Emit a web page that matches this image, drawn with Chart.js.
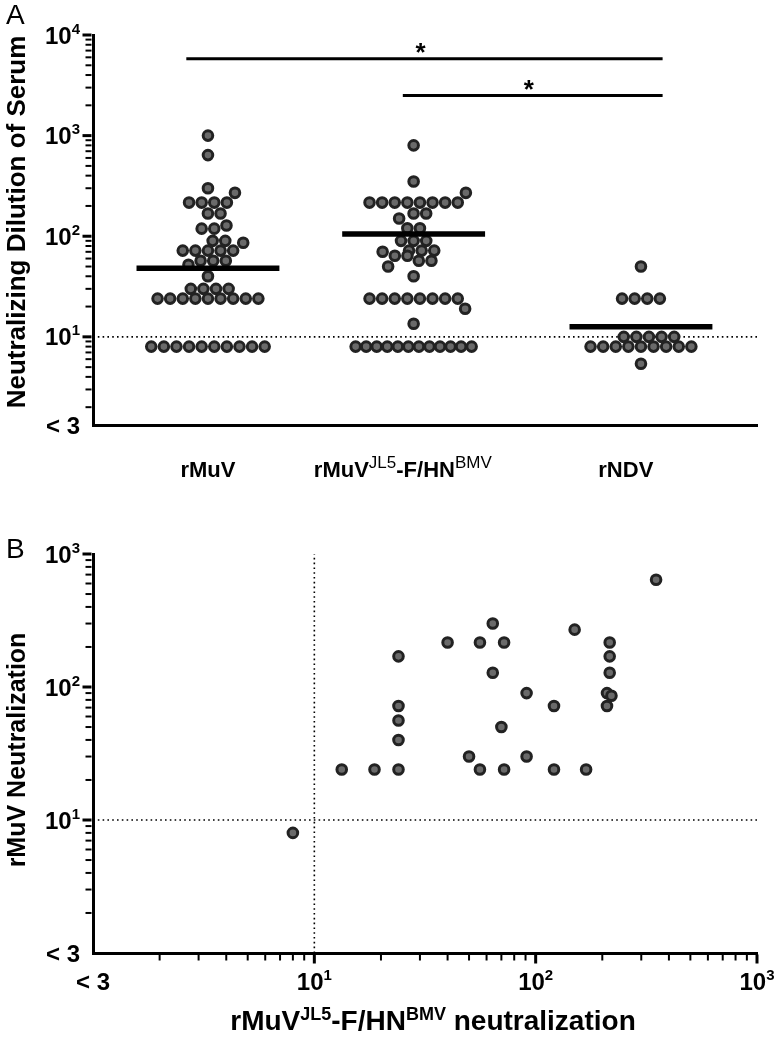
<!DOCTYPE html>
<html>
<head>
<meta charset="utf-8">
<script src="https://cdn.jsdelivr.net/npm/chart.js@4.4.1/dist/chart.umd.min.js"></script>
<style>
  html, body { margin: 0; padding: 0; background: #fff; }
  #wrap { position: relative; width: 780px; height: 1041px; overflow: hidden; }
  canvas { position: absolute; left: 0; }
  #cA { top: 0; }
  #cB { top: 520px; }
</style>
</head>
<body>
<div id="wrap">
  <canvas id="cA" width="780" height="520"></canvas>
  <canvas id="cB" width="780" height="521"></canvas>
</div>
<script>
// ---------------- DATA ----------------
const groupNames = ['rMuV', 'rMuVJL5-F/HNBMV', 'rNDV'];
const groupLabelParts = [
  [['rMuV', 0]],
  [['rMuV', 0], ['JL5', 1], ['-F/HN', 0], ['BMV', 1]],
  [['rNDV', 0]]
];
const rMuVTiters = [1000, 640, 300, 270, 216, 216, 216, 216, 168, 168, 128, 119, 119,
  90, 90, 86, 72, 72, 72, 72, 72, 57, 57, 57, 52, 40, 30, 30, 30, 30,
  24, 24, 24, 24, 24, 24, 24, 24, 24, 8, 8, 8, 8, 8, 8, 8, 8, 8, 8];
const rMuVJL5Titers = [800, 350, 270, 216, 216, 216, 216, 216, 216, 216, 216, 168, 168, 150,
  120, 120, 90, 90, 90, 72, 72, 72, 70, 64, 64, 57, 57, 50, 40,
  24, 24, 24, 24, 24, 24, 24, 24, 19, 13.5, 8, 8, 8, 8, 8, 8, 8, 8, 8, 8, 8, 8];
const rNDVTiters = [50, 24, 24, 24, 24, 10, 10, 10, 10, 10, 8, 8, 8, 8, 8, 8, 8, 8, 8, 5.4];
const groupMeans = [48, 105, 12.6];
const detectionLimit = 10;
const sigFrom = [0.9, 1.9];
const sigTo = [3.1, 3.1];
const sigLevels = [5800, 2500];
const sigMarks = ['*', '*'];
const yTickExpA = [1, 2, 3, 4];
const lowTickLabel = '< 3';

// panel B : x = rMuVJL5-F/HNBMV titer, y = rMuV titer
const scatterX = [8, 13.3, 18.7, 24, 24, 24, 24, 24, 40, 56, 72, 64, 64, 70, 50, 56, 72, 91, 91,
  121, 121, 169, 150, 216, 216, 216, 210, 220, 210, 350];
const scatterY = [8, 24, 24, 24, 40, 56, 72, 170, 216, 216, 216, 300, 128, 50, 30, 24, 24, 90, 30,
  72, 24, 24, 270, 216, 170, 128, 90, 86, 72, 640];
const tickExpB = [1, 2, 3];
const xTitleParts = [['rMuV', 0], ['JL5', 1], ['-F/HN', 0], ['BMV', 1], [' neutralization', 0]];

// ---------------- SETTINGS ----------------
const FONT = '"Liberation Sans", Arial, Helvetica, sans-serif';
const yMinA = 1.33, yMaxA = 10000;
const xMinA = 0.469, xMaxA = 3.536;
const groupPos = [1, 1.95, 3];      // column centres on the linear x axis
const labelPos = [1, 1.9, 2.93];    // column label centres
const minB = 1, maxB = 1000;
const meanHalf = 0.33;
const dotStyle = {
  pointRadius: 4.8, pointHoverRadius: 4.8, pointBorderWidth: 3, pointHoverBorderWidth: 3,
  pointBackgroundColor: '#6a6a6a', pointBorderColor: '#222222', showLine: false, clip: false
};

// ---------------- HELPERS ----------------
function drawParts(ctx, parts, x, baseline, align, size, supSize, bold, supBold, rise) {
  const fMain = (bold ? 'bold ' : '') + size + 'px ' + FONT;
  const fSup = (supBold ? 'bold ' : '') + supSize + 'px ' + FONT;
  let total = 0;
  const widths = parts.map(([t, s]) => { ctx.font = s ? fSup : fMain; const w = ctx.measureText(t).width; total += w; return w; });
  let cx = align === 'center' ? x - total / 2 : (align === 'right' ? x - total : x);
  ctx.textAlign = 'left';
  ctx.textBaseline = 'alphabetic';
  ctx.fillStyle = '#000';
  parts.forEach(([t, s], i) => {
    ctx.font = s ? fSup : fMain;
    ctx.fillText(t, cx, s ? baseline - rise : baseline);
    cx += widths[i];
  });
}
function logTicks(min, max) {
  const major = [], minor = [];
  for (let e = Math.floor(Math.log10(min)); e <= Math.ceil(Math.log10(max)); e++) {
    for (let m = 1; m <= 9; m++) {
      const v = m * Math.pow(10, e);
      if (v < min * 1.0001 || v > max * 1.0001) continue;
      (m === 1 ? major : minor).push(v);
    }
  }
  return { major, minor };
}
function drawYTicks(ctx, scale, x0, min, max) {
  const t = logTicks(min, max);
  ctx.strokeStyle = '#000';
  ctx.lineCap = 'butt';
  ctx.lineWidth = 2;
  t.minor.forEach(v => { const y = scale.getPixelForValue(v); ctx.beginPath(); ctx.moveTo(x0, y); ctx.lineTo(x0 - 6, y); ctx.stroke(); });
  ctx.lineWidth = 3;
  t.major.forEach(v => { const y = scale.getPixelForValue(v); ctx.beginPath(); ctx.moveTo(x0, y); ctx.lineTo(x0 - 9, y); ctx.stroke(); });
}
function drawXTicks(ctx, scale, y0, min, max) {
  const t = logTicks(min, max);
  ctx.strokeStyle = '#000';
  ctx.lineWidth = 2;
  t.minor.forEach(v => { const x = scale.getPixelForValue(v); ctx.beginPath(); ctx.moveTo(x, y0); ctx.lineTo(x, y0 + 6); ctx.stroke(); });
  ctx.lineWidth = 3;
  t.major.forEach(v => { const x = scale.getPixelForValue(v); ctx.beginPath(); ctx.moveTo(x, y0); ctx.lineTo(x, y0 + 9); ctx.stroke(); });
}
function powLabel(ctx, exp, x, yMid, align) {
  drawParts(ctx, [['10', 0], [String(exp), 1]], x, yMid + 8.5, align, 24, 15, true, true, 10);
}
function plainLabel(ctx, txt, x, yMid, align) {
  drawParts(ctx, [[txt, 0]], x, yMid + 8.5, align, 24, 15, true, true, 10);
}
function rotatedTitle(ctx, txt, x, y, size) {
  ctx.save();
  ctx.translate(x, y);
  ctx.rotate(-Math.PI / 2);
  ctx.font = 'bold ' + size + 'px ' + FONT;
  ctx.fillStyle = '#000';
  ctx.textAlign = 'center';
  ctx.textBaseline = 'middle';
  ctx.fillText(txt, 0, 0);
  ctx.restore();
}
function panelLetter(ctx, txt, x, y) {
  ctx.font = '28px ' + FONT;
  ctx.fillStyle = '#000';
  ctx.textAlign = 'left';
  ctx.textBaseline = 'alphabetic';
  ctx.fillText(txt, x, y);
}

// deterministic beeswarm (pixel space): tie rows are centred, others take the nearest free spot
function beeswarm(values, pixOf, d, maxHalf) {
  const n = values.length;
  const py = values.map(pixOf);
  const gm = new Map();
  values.forEach((v, i) => { if (!gm.has(v)) gm.set(v, []); gm.get(v).push(i); });
  const order = [...gm.entries()].sort((a, b) => (b[1].length - a[1].length) || (b[0] - a[0])).map(e => e[1]);
  const placed = [];
  const off = new Array(n).fill(0);
  const pen = (x, y) => {
    let p = 0;
    for (const q of placed) { const dist = Math.hypot(x - q.x, y - q.y); if (dist < d - 0.01) p += (d - dist); }
    return p;
  };
  for (const g of order) {
    const m = g.length;
    const y = py[g[0]];
    if (m > 1) {
      const sp = Math.min(d, 2 * maxHalf / (m - 1));
      let best = 0, bestP = Infinity;
      for (let s = 0; s <= sp + 1e-6; s += 0.25) {
        for (const sg of (s === 0 ? [0] : [s, -s])) {
          let p = 0;
          for (let k = 0; k < m; k++) p += pen((k - (m - 1) / 2) * sp + sg, y);
          p += Math.abs(sg) * 0.02;
          if (p < bestP - 1e-9) { bestP = p; best = sg; }
        }
      }
      g.forEach((idx, k) => { const x = (k - (m - 1) / 2) * sp + best; off[idx] = x; placed.push({ x, y }); });
    } else {
      const idx = g[0];
      let best = 0, bestP = Infinity, found = false;
      for (let s = 0; s <= maxHalf && !found; s += 0.25) {
        for (const sg of (s === 0 ? [0] : [s, -s])) {
          const p = pen(sg, y);
          if (p === 0) { best = sg; found = true; break; }
          if (p < bestP) { bestP = p; best = sg; }
        }
      }
      off[idx] = best;
      placed.push({ x: best, y });
    }
  }
  return off;
}

const axisOpts = (extra) => Object.assign({
  grid: { display: false, drawTicks: false, tickLength: 0 },
  ticks: { display: false },
  border: { display: true, color: '#000', width: 3 }
}, extra);

// ---------------- PANEL A ----------------
const groupSeries = [rMuVTiters, rMuVJL5Titers, rNDVTiters];
const dsA = [];
groupMeans.forEach((m, i) => dsA.push({
  label: 'mean ' + groupNames[i],
  data: [{ x: groupPos[i] - meanHalf, y: m }, { x: groupPos[i] + meanHalf, y: m }],
  showLine: true, borderColor: '#000', borderWidth: 5.5, pointRadius: 0, pointHoverRadius: 0,
  borderCapStyle: 'butt', clip: false
}));
sigLevels.forEach((lvl, i) => dsA.push({
  label: 'significance ' + i,
  data: [{ x: sigFrom[i], y: lvl }, { x: sigTo[i], y: lvl }],
  showLine: true, borderColor: '#000', borderWidth: 3, pointRadius: 0, pointHoverRadius: 0,
  borderCapStyle: 'butt', clip: false
}));
groupSeries.forEach((vals, i) => dsA.push(Object.assign({
  label: groupNames[i],
  data: vals.map(v => ({ x: groupPos[i], y: v }))
}, dotStyle)));
dsA.push({
  label: 'detection limit',
  data: [{ x: xMinA, y: detectionLimit }, { x: xMaxA, y: detectionLimit }],
  showLine: true, borderColor: '#000', borderWidth: 1.6, borderDash: [1.6, 3.2],
  pointRadius: 0, pointHoverRadius: 0, clip: false
});

const panelAPlugin = {
  id: 'panelA',
  afterDraw(chart) {
    const ctx = chart.ctx, ca = chart.chartArea, ys = chart.scales.y, xs = chart.scales.x;
    ctx.save();
    drawYTicks(ctx, ys, ca.left - 1.5, yMinA, yMaxA);
    yTickExpA.forEach(e => powLabel(ctx, e, ca.left - 13, ys.getPixelForValue(Math.pow(10, e)), 'right'));
    plainLabel(ctx, lowTickLabel, ca.left - 13, ys.getPixelForValue(yMinA), 'right');
    groupLabelParts.forEach((parts, i) => {
      drawParts(ctx, parts, xs.getPixelForValue(labelPos[i]), ca.bottom + 52, 'center', 22, 17, true, false, 9);
    });
    sigLevels.forEach((lvl, i) => {
      const xm = (xs.getPixelForValue(sigFrom[i]) + xs.getPixelForValue(sigTo[i])) / 2;
      const ym = ys.getPixelForValue(lvl);
      ctx.font = 'bold 26px ' + FONT;
      ctx.fillStyle = '#000';
      ctx.textAlign = 'center';
      ctx.textBaseline = 'alphabetic';
      ctx.fillText(sigMarks[i], xm - 4, ym + 2);
    });
    rotatedTitle(ctx, 'Neutralizing Dilution of Serum', 18, 222, 26);
    panelLetter(ctx, 'A', 6, 24);
    ctx.restore();
  }
};

const chartA = new Chart(document.getElementById('cA'), {
  type: 'scatter',
  data: { datasets: dsA },
  options: {
    responsive: false, animation: false, devicePixelRatio: 1, events: [],
    layout: { padding: { left: 93, right: 23, top: 35, bottom: 95 } },
    plugins: { legend: { display: false }, tooltip: { enabled: false } },
    scales: {
      x: axisOpts({ type: 'linear', min: xMinA, max: xMaxA }),
      y: axisOpts({ type: 'logarithmic', min: yMinA, max: yMaxA })
    }
  },
  plugins: [panelAPlugin]
});

// spread the dots of each column with a beeswarm computed through the chart's own scales
(function () {
  const xs = chartA.scales.x, ys = chartA.scales.y;
  groupSeries.forEach((vals, i) => {
    const off = beeswarm(vals, v => ys.getPixelForValue(v), 12.6, 58);
    const cx = xs.getPixelForValue(groupPos[i]);
    const ds = chartA.data.datasets[groupMeans.length + sigLevels.length + i];
    ds.data = vals.map((v, k) => ({ x: xs.getValueForPixel(cx + off[k]), y: v }));
  });
  chartA.update('none');
})();

// ---------------- PANEL B ----------------
const panelBPlugin = {
  id: 'panelB',
  afterDraw(chart) {
    const ctx = chart.ctx, ca = chart.chartArea, ys = chart.scales.y, xs = chart.scales.x;
    ctx.save();
    drawYTicks(ctx, ys, ca.left - 1.5, minB, maxB);
    drawXTicks(ctx, xs, ca.bottom + 1.5, minB, maxB);
    tickExpB.forEach(e => powLabel(ctx, e, ca.left - 13, ys.getPixelForValue(Math.pow(10, e)), 'right'));
    plainLabel(ctx, lowTickLabel, ca.left - 13, ys.getPixelForValue(minB), 'right');
    tickExpB.forEach(e => powLabel(ctx, e, xs.getPixelForValue(Math.pow(10, e)), ca.bottom + 28, 'center'));
    plainLabel(ctx, lowTickLabel, xs.getPixelForValue(minB), ca.bottom + 28, 'center');
    drawParts(ctx, xTitleParts, (ca.left + ca.right) / 2 + 8, ca.bottom + 77, 'center', 28, 18, true, true, 10);
    rotatedTitle(ctx, 'rMuV Neutralization', 18, 230, 25);
    panelLetter(ctx, 'B', 6, 38);
    ctx.restore();
  }
};

new Chart(document.getElementById('cB'), {
  type: 'scatter',
  data: {
    datasets: [
      Object.assign({ label: 'rMuV vs rMuVJL5-F/HNBMV', data: scatterX.map((x, i) => ({ x, y: scatterY[i] })) }, dotStyle),
      {
        label: 'limit x', data: [{ x: detectionLimit, y: minB }, { x: detectionLimit, y: maxB }],
        showLine: true, borderColor: '#000', borderWidth: 1.6, borderDash: [1.6, 3.2], pointRadius: 0, clip: false
      },
      {
        label: 'limit y', data: [{ x: minB, y: detectionLimit }, { x: maxB, y: detectionLimit }],
        showLine: true, borderColor: '#000', borderWidth: 1.6, borderDash: [1.6, 3.2], pointRadius: 0, clip: false
      }
    ]
  },
  options: {
    responsive: false, animation: false, devicePixelRatio: 1, events: [],
    layout: { padding: { left: 93, right: 23, top: 34, bottom: 88 } },
    plugins: { legend: { display: false }, tooltip: { enabled: false } },
    scales: {
      x: axisOpts({ type: 'logarithmic', min: minB, max: maxB }),
      y: axisOpts({ type: 'logarithmic', min: minB, max: maxB })
    }
  },
  plugins: [panelBPlugin]
});
</script>
</body>
</html>
